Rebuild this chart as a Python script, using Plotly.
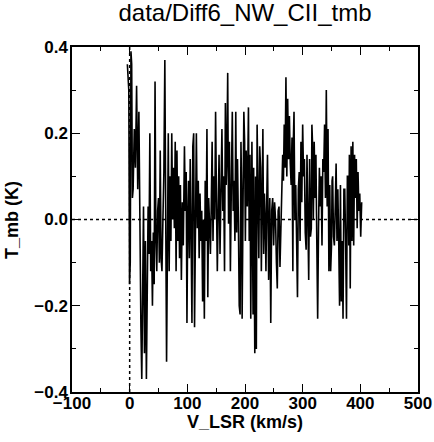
import numpy as np
import plotly.graph_objects as go

# spectrum: (v_start, v_end, T_mb values in that velocity span)
segments = [
    (-4, 6, [0.36, 0.34, 0.30, -0.15, -0.10, 0.39, 0.36, 0.05]),
    (6, 12, [0.07, 0.21, 0.12]),
    (12, 18, [0.31, 0.07, 0.25]),
    (18, 21, [-0.09, -0.25]),
    (21, 24, [-0.37, -0.10]),
    (24, 29, [0.03, -0.31, -0.05]),
    (29, 32, [-0.37, -0.15]),
    (32, 35, [0.03, -0.08]),
    (35, 38, [0.20, -0.12]),
    (38, 44, [-0.05, -0.20, -0.03, -0.15]),
    (44, 47, [0.32, -0.05]),
    (47, 50, [-0.12, 0.02]),
    (50, 53, [0.05, -0.10]),
    (53, 56, [0.16, -0.09]),
    (56, 61, [-0.12, 0.00, 0.11]),
    (61, 64, [0.37, 0.05]),
    (64, 67, [-0.33]),
    (67, 73, [0.20, -0.12, 0.10, -0.05]),
    (73, 79, [0.20, 0.00, 0.12, -0.02]),
    (79, 82, [0.18, -0.12]),
    (82, 88, [0.16, -0.05, 0.10, -0.09]),
    (88, 93, [0.08, -0.14, 0.04]),
    (93, 95, [-0.06]),
    (95, 98, [0.17, 0.02]),
    (98, 102, [0.11, -0.24, 0.00]),
    (102, 108, [0.09, -0.09, 0.14, -0.03]),
    (108, 111, [-0.24, 0.17]),
    (111, 114, [0.20, -0.25]),
    (114, 119, [0.05, 0.20, -0.02]),
    (119, 125, [0.09, -0.09, 0.06, -0.05]),
    (125, 131, [0.02, -0.19, 0.00, -0.23]),
    (131, 134, [0.09, -0.05]),
    (134, 137, [0.21, -0.18]),
    (137, 143, [0.05, -0.01, -0.08, 0.03]),
    (143, 149, [0.18, -0.05, 0.10, 0.00]),
    (149, 152, [0.25, 0.05]),
    (152, 155, [-0.12, 0.02]),
    (155, 160, [0.15, -0.08, 0.06]),
    (160, 163, [0.21, 0.02]),
    (163, 166, [0.10, -0.12]),
    (166, 170, [0.27, 0.08, 0.15]),
    (170, 173, [0.34, -0.01]),
    (173, 178, [0.18, -0.12, 0.08]),
    (178, 181, [0.25, 0.02]),
    (181, 184, [0.09, -0.05]),
    (184, 190, [0.25, -0.03, 0.14, 0.00]),
    (190, 193, [-0.20, -0.22]),
    (193, 195, [0.18, 0.08]),
    (195, 198, [-0.23, 0.02]),
    (198, 202, [0.25, 0.18, -0.05]),
    (202, 206, [0.16, 0.03]),
    (206, 210, [0.26, -0.05, 0.15]),
    (210, 214, [-0.23, 0.18]),
    (214, 217, [-0.22, 0.12, -0.09]),
    (217, 221, [-0.31, 0.10, -0.30]),
    (221, 224, [0.22, 0.02]),
    (224, 227, [-0.09, 0.17]),
    (227, 231, [0.12, -0.12, 0.05]),
    (231, 235, [0.21, -0.08, 0.06]),
    (235, 239, [0.00, -0.12, 0.04]),
    (239, 243, [0.15, -0.14]),
    (243, 248, [0.05, -0.24, 0.02]),
    (248, 253, [0.05, -0.06, 0.04]),
    (253, 259, [0.00, -0.10, -0.16, 0.02]),
    (259, 264, [0.03, -0.11, 0.00]),
    (264, 268, [0.12, 0.15, 0.09]),
    (268, 271, [0.22, 0.12]),
    (271, 274, [0.33, 0.10]),
    (274, 277, [0.28, 0.14]),
    (277, 280, [0.24, 0.13]),
    (280, 283, [0.08, 0.19]),
    (283, 285, [-0.12, 0.19]),
    (285, 288, [0.25, 0.00]),
    (288, 291, [0.08, -0.05]),
    (291, 294, [-0.18, 0.07]),
    (294, 300, [0.11, -0.05, 0.18, 0.04]),
    (300, 303, [0.22, 0.10]),
    (303, 306, [0.14, -0.03]),
    (306, 309, [-0.07, 0.15]),
    (309, 312, [0.01, -0.14]),
    (312, 315, [0.14, -0.04]),
    (315, 317, [-0.02, 0.22]),
    (317, 320, [0.18, 0.00]),
    (320, 323, [0.18, 0.05]),
    (323, 326, [0.15, -0.05]),
    (326, 329, [-0.23, -0.02]),
    (329, 332, [0.12, 0.03]),
    (332, 335, [0.10, -0.06]),
    (335, 338, [0.14, 0.11]),
    (338, 341, [0.22, 0.05]),
    (341, 344, [0.30, 0.03]),
    (344, 347, [0.21, -0.12]),
    (347, 350, [0.08, -0.12]),
    (350, 352, [-0.06, 0.09]),
    (352, 355, [0.10, -0.04]),
    (355, 358, [-0.06, 0.03]),
    (358, 361, [0.13, -0.05]),
    (361, 364, [0.07, -0.05]),
    (364, 367, [-0.20, 0.08]),
    (367, 370, [-0.19, -0.05]),
    (370, 373, [-0.23, 0.07]),
    (373, 376, [0.07, -0.05]),
    (376, 379, [-0.23, 0.10]),
    (379, 381, [0.10, -0.06]),
    (381, 384, [0.15, -0.16]),
    (384, 387, [0.17, -0.05]),
    (387, 390, [0.18, -0.06]),
    (390, 393, [0.15, 0.05]),
    (393, 396, [0.14, -0.02]),
    (396, 399, [0.11, 0.02]),
    (399, 404, [0.06, -0.04, 0.04]),
]

vel = []
tmb = []
for lo, hi, vals in segments:
    vel.extend(np.linspace(lo, hi, len(vals), endpoint=False))
    tmb.extend(vals)

font = "Liberation Sans, Arial, sans-serif"
label_font = dict(size=18, color='black', family=font, weight='bold')

fig = go.Figure()

fig.add_trace(go.Scatter(
    x=vel,
    y=tmb,
    mode='lines',
    line=dict(color='black', width=1.6),
    hoverinfo='x+y',
    showlegend=False
))

# dotted zero lines
fig.add_hline(y=0, line=dict(color='black', width=1.5, dash='dot'))
fig.add_vline(x=0, line=dict(color='black', width=1.5, dash='dot'))

axis_style = dict(
    showline=True,
    linecolor='black',
    linewidth=1.5,
    mirror='allticks',
    ticks='inside',
    ticklen=8,
    tickwidth=1.2,
    tickcolor='black',
    showgrid=False,
    zeroline=False,
    automargin=False,
    tickfont=dict(size=17, color='black', family=font, weight='bold'),
)

fig.update_xaxes(
    range=[-100, 500],
    dtick=100,
    ticklabelstandoff=-5,
    minor=dict(dtick=50, ticks='inside', ticklen=4, tickcolor='black'),
    **axis_style
)
fig.update_yaxes(
    range=[-0.4, 0.4],
    dtick=0.2,
    tickformat='.1f',
    ticklabelstandoff=-1,
    minor=dict(dtick=0.1, ticks='inside', ticklen=4, tickcolor='black'),
    **axis_style
)

# axis titles
fig.add_annotation(text='V_LSR (km/s)', xref='paper', yref='paper', x=0.5, y=-0.087,
                   xanchor='center', yanchor='middle', showarrow=False, font=label_font)
fig.add_annotation(text='T_mb (K)', xref='paper', yref='paper', x=-0.175, y=0.5,
                   xanchor='center', yanchor='middle', textangle=-90, showarrow=False, font=label_font)

fig.update_layout(
    width=434,
    height=442,
    margin=dict(l=72, r=16, t=47, b=50),
    paper_bgcolor='white',
    plot_bgcolor='white',
    title=dict(
        text='data/Diff6_NW_CII_tmb',
        font=dict(size=24, color='black', family=font),
        x=0.5645,
        xanchor='center',
        y=0.972,
        yanchor='middle'
    )
)

fig.write_html("out.html", config={'displayModeBar': False},
               post_script="document.body.style.margin='0px';")
